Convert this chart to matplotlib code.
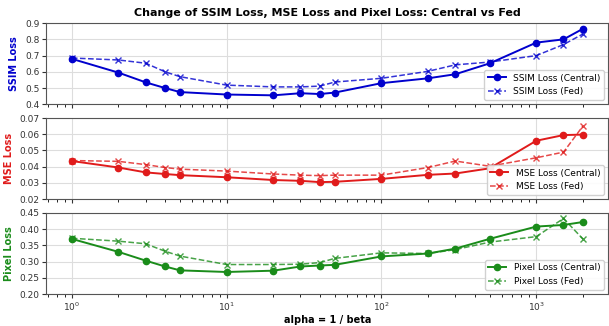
import matplotlib
matplotlib.use("Agg")
import matplotlib.pyplot as plt

# alpha values (x axis, log scale)
alpha = [1, 2, 3, 4, 5, 10, 20, 30, 40, 50, 100, 200, 300, 500, 1000, 1500, 2000]

ssim_central = [0.68, 0.595, 0.535, 0.50, 0.475, 0.46, 0.455, 0.468, 0.463, 0.472,
                0.53, 0.56, 0.585, 0.652, 0.78, 0.80, 0.865]
ssim_fed = [0.685, 0.673, 0.653, 0.60, 0.57, 0.518, 0.507, 0.507, 0.512, 0.537,
            0.56, 0.603, 0.643, 0.66, 0.70, 0.768, 0.833]

mse_central = [0.0435, 0.0395, 0.0365, 0.0355, 0.0348, 0.0335, 0.0318, 0.0313, 0.0305, 0.0307,
               0.0325, 0.035, 0.0358, 0.039, 0.056, 0.0595, 0.0598]
mse_fed = [0.0438, 0.0433, 0.0413, 0.0395, 0.0385, 0.0373, 0.0355, 0.0348, 0.0345, 0.0348,
           0.0348, 0.0395, 0.0435, 0.0403, 0.0455, 0.049, 0.065]

pixel_central = [0.37, 0.33, 0.303, 0.285, 0.273, 0.268, 0.272, 0.285, 0.288, 0.29,
                 0.316, 0.325, 0.34, 0.37, 0.408, 0.413, 0.422]
pixel_fed = [0.372, 0.363, 0.355, 0.332, 0.317, 0.291, 0.291, 0.292, 0.297, 0.31,
             0.327, 0.325, 0.337, 0.36, 0.377, 0.433, 0.37]

panels = [
    ("SSIM Loss", ssim_central, ssim_fed, "mediumblue", (0.4, 0.9), [0.4, 0.5, 0.6, 0.7, 0.8, 0.9], "{:.1f}"),
    ("MSE Loss", mse_central, mse_fed, "#e01b1b", (0.02, 0.07), [0.02, 0.03, 0.04, 0.05, 0.06, 0.07], "{:.2f}"),
    ("Pixel Loss", pixel_central, pixel_fed, "#1a8c1a", (0.20, 0.45), [0.20, 0.25, 0.30, 0.35, 0.40, 0.45], "{:.2f}"),
]

fig, axes = plt.subplots(3, 1, figsize=(6.09, 3.26), dpi=100, sharex=True)
fig.subplots_adjust(left=0.076, right=0.999, top=0.929, bottom=0.098, hspace=0.17)

for ax, (name, central, fed, color, ylim, yticks, fmt) in zip(axes, panels):
    ax.plot(alpha, central, "-o", color=color, lw=1.4, ms=4.5, label=f"{name} (Central)")
    ax.plot(alpha, fed, "--x", color=color, lw=1.1, ms=4, alpha=0.8, label=f"{name} (Fed)")
    ax.set_xscale("log")
    ax.set_ylim(*ylim)
    ax.set_yticks(yticks)
    ax.set_yticklabels([fmt.format(t) for t in yticks])
    ax.set_ylabel(name, color=color, fontsize=7, fontweight="bold")
    ax.grid(True, color="#dddddd", lw=0.8)
    ax.tick_params(labelsize=6.5, colors="#333333", length=3, pad=2)
    for s in ax.spines.values():
        s.set_color("#555555")
    ax.legend(loc="lower right", fontsize=6.5, framealpha=0.9, borderpad=0.4, handlelength=2)

axes[0].set_title("Change of SSIM Loss, MSE Loss and Pixel Loss: Central vs Fed",
                  fontsize=8, fontweight="bold", pad=5)
axes[2].set_xlabel("alpha = 1 / beta", fontsize=7, fontweight="bold", labelpad=1)

plt.savefig("out.png", dpi=100)
